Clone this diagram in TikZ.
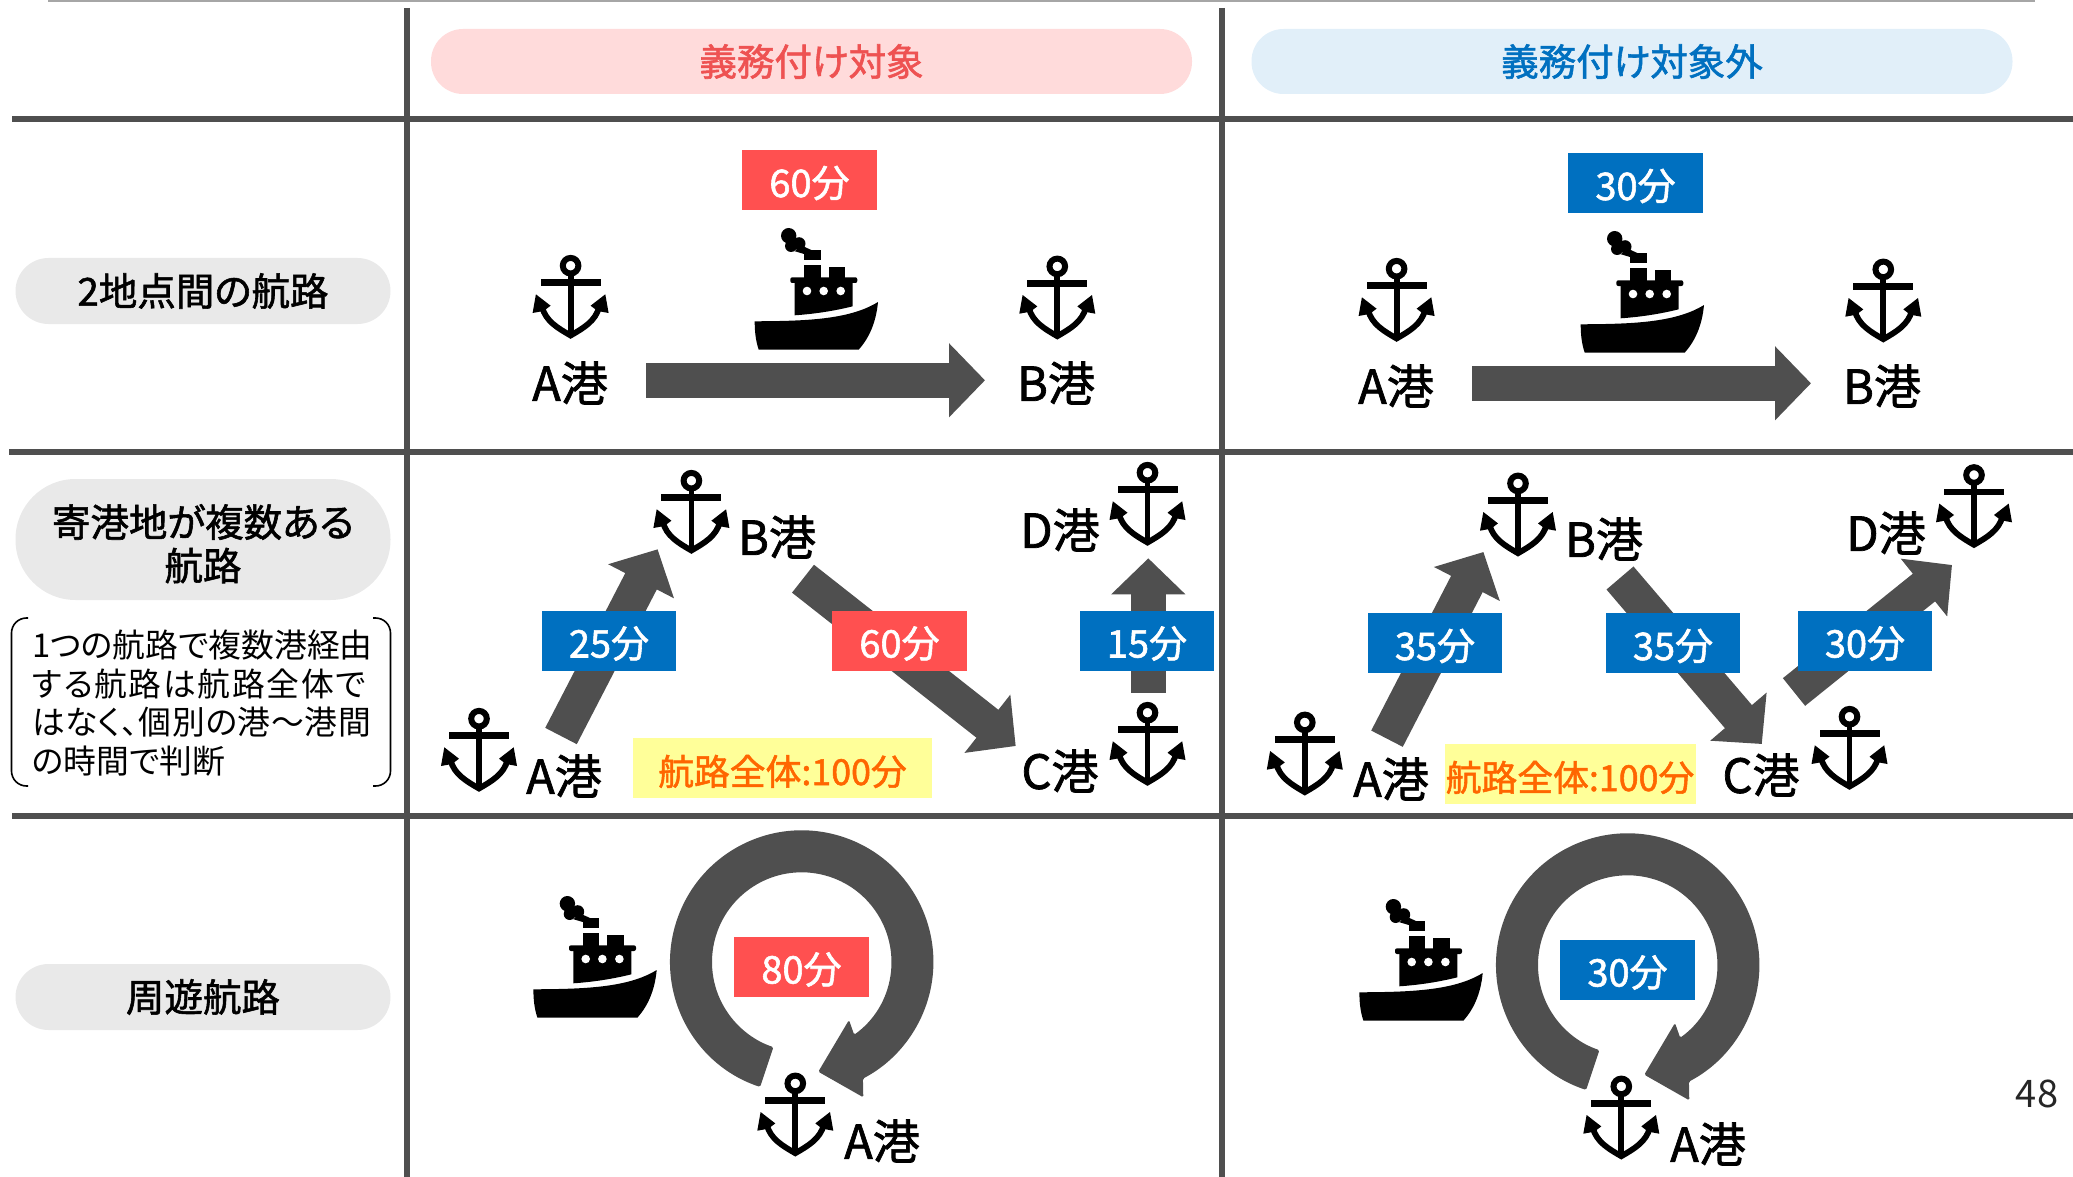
\documentclass[tikz,border=0pt]{standalone}
\usepackage{fontspec}
\usetikzlibrary{arrows.meta,calc}
\setmainfont[RawFeature=+palt]{Noto Sans CJK JP}
\newfontfamily\medfont[RawFeature=+palt,FakeBold=1.5]{Noto Sans CJK JP}

\definecolor{gridgray}{HTML}{4F4F4F}
\definecolor{routegray}{HTML}{4F4F4F}
\definecolor{pillgray}{HTML}{E9E9E9}
\definecolor{pillred}{HTML}{FFDBDB}
\definecolor{pillblue}{HTML}{E1EFF9}
\definecolor{textred}{HTML}{EE5252}
\definecolor{badgered}{HTML}{FF5050}
\definecolor{badgeblue}{HTML}{0070C0}
\definecolor{noteyellow}{HTML}{FFFF99}
\definecolor{noteorange}{HTML}{FF6600}

\tikzset{
    every pic/.style = {yscale = -1},
    gridline/.style = {line width = 6pt, draw = gridgray},
    route/.style = {line width = 35.5pt, draw = routegray,
        -{Triangle[length = 36pt, width = 72pt]}},
    headpill/.style = {rounded corners = 32pt, minimum width = 761pt, minimum height = 65pt,
        inner sep = 0pt, font = \medfont\fontsize{37.5}{44}\selectfont},
    rowpill/.style = {fill = pillgray, rounded corners = 33pt, minimum width = 375pt, minimum height = 66pt,
        inner sep = 0pt, align = center, font = \medfont\fontsize{38.5}{43.5}\selectfont},
    badge/.style = {minimum width = 134.5pt, minimum height = 60pt, inner sep = 0pt,
        text height = 36pt, text depth = 2pt, text = white, font = \medfont\fontsize{38}{44}\selectfont},
    redbadge/.style = {badge, fill = badgered},
    bluebadge/.style = {badge, fill = badgeblue},
    note/.style = {fill = noteyellow, minimum height = 60pt, inner sep = 0pt,
        text height = 36pt, text depth = 2pt, text = noteorange, font = \medfont\fontsize{35.8}{44}\selectfont},
    port/.style = {inner sep = 0pt, font = \medfont\fontsize{47}{47}\selectfont},
    anchorpic/.pic = {
        % origin: top of the ring, on the stem
        \draw[line width = 6pt] (0,10.7) circle(7.8);
        \fill (-30,24.3) rectangle (30,31);
        \fill (-2.9,17) rectangle (2.9,78);
        \draw[line width = 5.8pt, miter limit = 10]
            (-28.5,52) .. controls (-25,66) and (-13,73) .. (0,80.5)
            .. controls (13,73) and (25,66) .. (28.5,52);
        \fill (-34.7,39.3) -- (-20,50.7) -- (-27,56) -- (-38,58) -- cycle;
        \fill (34.7,39.3) -- (20,50.7) -- (27,56) -- (38,58) -- cycle;
    },
    shippic/.pic = {
        % origin: top left of the box round the ship
        \fill (0.7,93.3) .. controls (50,93) and (95,92) .. (124,74)
            .. controls (122,95) and (115,110) .. (104.7,121.7)
            -- (4.7,121.7) .. controls (1.5,112) and (0.7,103) .. (0.7,93.3) -- cycle;
        \fill (40.7,87.3) -- (40.7,54.7) -- (98.7,54.7) -- (98.7,78.3)
            .. controls (80,83) and (60,86) .. (40.7,87.3) -- cycle;
        \fill[rounded corners = 2pt] (36.3,49.3) rectangle (103.3,55);
        \fill (50,37) rectangle (66.7,50);
        \fill (74.7,38.7) rectangle (91.3,50);
        \fill (50,22.3) rectangle (66.7,32.3);
        \fill (34.7,7.7) circle(7.7);
        \fill (45,15.7) circle(6.5);
        \fill (37,18) circle(6);
        \fill (40,23) -- (50.7,19) -- (58,22.3) -- (50,26) -- cycle;
        \fill[white] (53,63) circle(4.3);
        \fill[white] (69.7,63) circle(4.3);
        \fill[white] (86.7,63) circle(4.3);
    },
    looppic/.pic = {
        % origin: centre of the ring
        \fill[routegray, rounded corners = 1.5pt] (108.4:131.7)
            arc[start angle = 108.4, end angle = 422.3, radius = 131.7]
            -- (61.6,135.3) -- (16.6,109.7) -- (47.3,58) -- (414.2:89.7)
            arc[start angle = 414.2, end angle = 108.4, radius = 89.7] -- cycle;
    }
}

\begin{document}
\begin{tikzpicture}[x = 1pt, y = 1pt, yscale = -1]
    \useasboundingbox (0,0) rectangle (2073,1177);

    % grid
    \coordinate (topL) at (48,0.7);
    \coordinate (topR) at (2035,0.7);
    \draw[line width = 2pt, draw = black!35] (topL) -- (topR);
    \coordinate (v1T) at (407.3,8);
    \coordinate (v1B) at (407.3,1177);
    \coordinate (v2T) at (1222.3,8);
    \coordinate (v2B) at (1222.3,1177);
    \coordinate (h1L) at (12,118.7);
    \coordinate (h1R) at (2073,118.7);
    \coordinate (h2L) at (9,452.3);
    \coordinate (h2R) at (2073,452.3);
    \coordinate (h3L) at (12,816);
    \coordinate (h3R) at (2073,816);
    \draw[gridline] (v1T) -- (v1B);
    \draw[gridline] (v2T) -- (v2B);
    \draw[gridline] (h1L) -- (h1R);
    \draw[gridline] (h2L) -- (h2R);
    \draw[gridline] (h3L) -- (h3R);

    % headers
    \node[headpill, fill = pillred, text = textred] (headOn) at (811.5,61.5) {義務付け対象};
    \node[headpill, fill = pillblue, text = badgeblue] (headOff) at (1632,61.5) {義務付け対象外};

    % row titles
    \node[rowpill] (rowDirect) at (203,291) {2地点間の航路};
    \node[rowpill, minimum height = 121pt, rounded corners = 60pt] (rowMulti) at (203,539.5)
        {\rule{0pt}{41pt}寄港地が複数ある\\航路};
    \node[rowpill] (rowLoop) at (203,997) {周遊航路};

    \coordinate (brLT) at (28,618);
    \coordinate (brLB) at (28,786);
    \coordinate (brRT) at (373,618);
    \coordinate (brRB) at (373,786);
    \draw[line width = 1.6pt, rounded corners = 15pt] (brLT) -- (11.5,618) -- (11.5,786) -- (brLB);
    \draw[line width = 1.6pt, rounded corners = 15pt] (brRT) -- (390.5,618) -- (390.5,786) -- (brRB);
    \node[anchor = west, inner sep = 0pt, align = left, font = \fontsize{32.8}{38.5}\selectfont] (ruleNote) at (32,703)
        {1つの航路で複数港経由\\{\addfontfeature{LetterSpace=5}する航路は航路全体で}\\{\addfontfeature{LetterSpace=2}はなく、個別の港\char"FF5E 港間}\\の時間で判断};

    % direct route, required
    \coordinate (d1S) at (646,380.3);
    \coordinate (d1E) at (985,380.3);
    \draw[route] (d1S) -- (d1E);
    \pic (d1Ship) at (754,228) {shippic};
    \pic (d1AncA) at (570.6,255) {anchorpic};
    \pic (d1AncB) at (1057.3,255.7) {anchorpic};
    \node[port] (d1A) at (570,383) {A港};
    \node[port] (d1B) at (1056,383) {B港};
    \node[redbadge] (d1T) at (809.5,180) {60分};

    % direct route, not required
    \begin{scope}[shift = {(826,3)}]
        \coordinate (d2S) at (646,380.3);
        \coordinate (d2E) at (985,380.3);
        \draw[route] (d2S) -- (d2E);
        \pic (d2Ship) at (754,228) {shippic};
        \pic (d2AncA) at (570.6,255) {anchorpic};
        \pic (d2AncB) at (1057.3,255.7) {anchorpic};
        \node[port] (d2A) at (570,383) {A港};
        \node[port] (d2B) at (1056,383) {B港};
        \node[bluebadge] (d2T) at (809.5,180) {30分};
    \end{scope}

    % several ports, required
    \coordinate (m1AS) at (561,736);
    \coordinate (m1AE) at (657.6,549.3);
    \coordinate (m1BS) at (803,578.7);
    \coordinate (m1BE) at (1015.7,746);
    \coordinate (m1CS) at (1148.3,692.7);
    \coordinate (m1CE) at (1148.3,558.3);
    \draw[route] (m1AS) -- (m1AE);
    \draw[route] (m1BS) -- (m1BE);
    \draw[route] (m1CS) -- (m1CE);
    \pic (m1AncA) at (479,708) {anchorpic};
    \pic (m1AncB) at (691.4,470) {anchorpic};
    \pic (m1AncC) at (1147.5,702) {anchorpic};
    \pic (m1AncD) at (1147.5,462) {anchorpic};
    \node[port] (m1A) at (564,776) {A港};
    \node[port] (m1B) at (777,537) {B港};
    \node[port] (m1C) at (1060,771) {C港};
    \node[port] (m1D) at (1060,530) {D港};
    \node[bluebadge] (m1T1) at (609,640.5) {25分};
    \node[redbadge] (m1T2) at (899.5,640.5) {60分};
    \node[bluebadge] (m1T3) at (1147,640.5) {15分};
    \node[note, minimum width = 299pt] (m1Sum) at (782.5,768) {航路全体:100分};

    % several ports, not required
    \coordinate (m2AS) at (1387,738.7);
    \coordinate (m2AE) at (1483.4,552);
    \coordinate (m2BS) at (1620,578);
    \coordinate (m2BE) at (1761.8,744);
    \coordinate (m2CS) at (1794,692);
    \coordinate (m2CE) at (1952,565);
    \draw[route] (m2AS) -- (m2AE);
    \draw[route] (m2BS) -- (m2BE);
    \draw[route] (m2CS) -- (m2CE);
    \pic (m2AncA) at (1304.8,711.7) {anchorpic};
    \pic (m2AncB) at (1518,472.7) {anchorpic};
    \pic (m2AncC) at (1849.5,706) {anchorpic};
    \pic (m2AncD) at (1974,464.3) {anchorpic};
    \node[port] (m2A) at (1391,779) {A港};
    \node[port] (m2B) at (1604,539) {B港};
    \node[port] (m2C) at (1761,775) {C港};
    \node[port] (m2D) at (1886,533) {D港};
    \node[bluebadge] (m2T1) at (1435,643) {35分};
    \node[bluebadge] (m2T2) at (1673,643) {35分};
    \node[bluebadge] (m2T3) at (1865,640.5) {30分};
    \node[note, minimum width = 251pt] (m2Sum) at (1570,774) {航路全体:100分};

    % round trip, required
    \pic (r1Ship) at (532.7,896) {shippic};
    \pic (r1Loop) at (801.7,962) {looppic};
    \pic (r1Anc) at (795.3,1072.7) {anchorpic};
    \node[port] (r1A) at (882,1141) {A港};
    \node[redbadge] (r1T) at (801.5,966.5) {80分};

    % round trip, not required
    \begin{scope}[shift = {(826,3)}]
        \pic (r2Ship) at (532.7,896) {shippic};
        \pic (r2Loop) at (801.7,962) {looppic};
        \pic (r2Anc) at (795.3,1072.7) {anchorpic};
        \node[port] (r2A) at (882,1141) {A港};
        \node[bluebadge] (r2T) at (801.5,966.5) {30分};
    \end{scope}

    % page number
    \node[inner sep = 0pt, text = black!85, font = \fontsize{38}{44}\selectfont] (pageNo) at (2037,1094) {48};
\end{tikzpicture}
\end{document}
